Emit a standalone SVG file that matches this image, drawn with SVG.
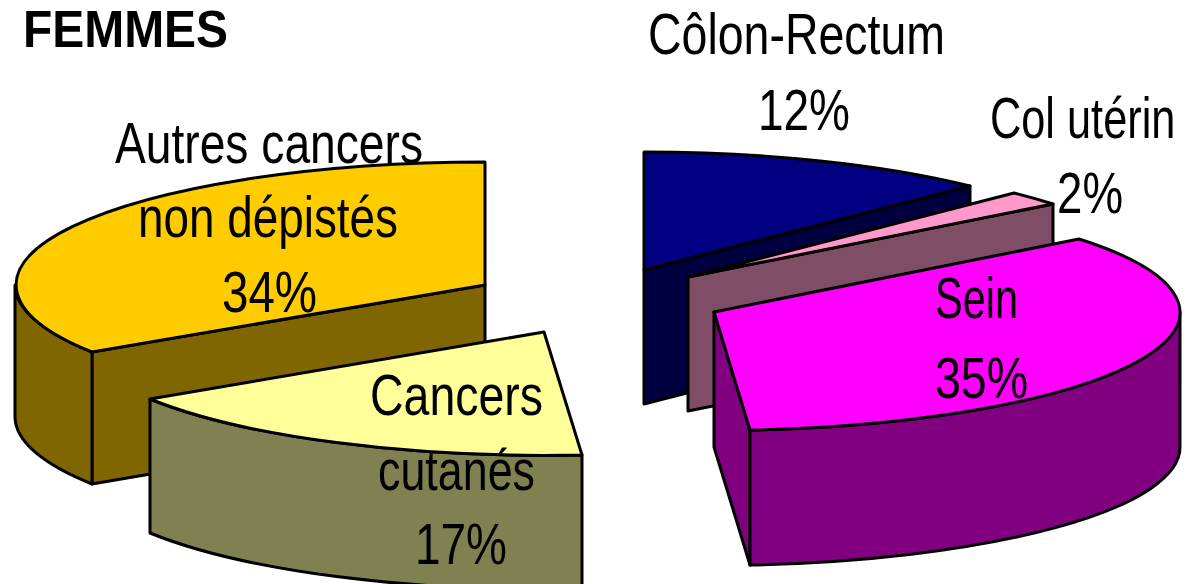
<svg xmlns="http://www.w3.org/2000/svg" width="1188" height="584" viewBox="0 0 1188 584">
<style>
  .t { font-family: "Liberation Sans", Arial, sans-serif; font-size: 57px; fill: #000; }
  .b { font-weight: bold; font-size: 52px; }
  .e { stroke: #000; stroke-width: 3; stroke-linejoin: round; }
</style>
<rect width="1188" height="584" fill="#fff"/>
<g id="title">
  <text class="t b" x="23" y="47" textLength="205" lengthAdjust="spacingAndGlyphs">FEMMES</text>
</g>
<g id="autres-cancers">
  <path class="e" fill="#806600" d="M485,285 L92,352 L92,484 L485,417 Z"/>
  <path class="e" fill="#806600" d="M15,285 A470,123 0 0 0 92,352 L92,484 A470,123 0 0 1 15,417 Z"/>
  <path class="e" fill="#FFCC00" d="M485,285 L485,162 A470,123 0 0 0 92,352 Z"/>
  <text class="t" x="115" y="163" textLength="308" lengthAdjust="spacingAndGlyphs">Autres cancers</text>
  <text class="t" x="138" y="237" textLength="260" lengthAdjust="spacingAndGlyphs">non dépistés</text>
  <text class="t" x="222" y="312" textLength="95" lengthAdjust="spacingAndGlyphs">34%</text>
</g>
<g id="cancers-cutanes">
  <path class="e" fill="#808050" d="M150,399 A470,123 0 0 0 582,455 L582,589 A470,123 0 0 1 150,533 Z"/>
  <path class="e" fill="#FFFF99" d="M544,332 L150,399 A470,123 0 0 0 582,455 Z"/>
  <text class="t" x="370" y="415" textLength="173" lengthAdjust="spacingAndGlyphs">Cancers</text>
  <text class="t" x="378" y="490" textLength="157" lengthAdjust="spacingAndGlyphs">cutanés</text>
  <text class="t" x="415" y="564" textLength="92" lengthAdjust="spacingAndGlyphs">17%</text>
</g>
<g id="colon-rectum">
  <path class="e" fill="#000040" d="M644,270 L970,186 L970,320 L644,404 Z"/>
  <path class="e" fill="#000080" d="M644,270 L644,152 A466,118 0 0 1 970,186 Z"/>
  <text class="t" x="648" y="54" textLength="297" lengthAdjust="spacingAndGlyphs">Côlon-Rectum</text>
  <text class="t" x="758" y="130" textLength="92" lengthAdjust="spacingAndGlyphs">12%</text>
</g>
<g id="col-uterin">
  <path class="e" fill="#804D66" d="M688,277 L1053,204 L1053,338 L688,411 Z"/>
  <path class="e" fill="#FF99CC" d="M688,277 L1014,193 A466,118 0 0 1 1053,204 Z"/>
  <text class="t" transform="translate(990,138) scale(0.76,1)" x="0" y="0">Col utérin</text>
  <text class="t" x="1057" y="213" textLength="66" lengthAdjust="spacingAndGlyphs">2%</text>
</g>
<g id="sein">
  <path class="e" fill="#800080" d="M714,312 L750,430 L750,565 L714,447 Z"/>
  <path class="e" fill="#800080" d="M1180,312 A466,118 0 0 1 750,430 L750,565 A466,118 0 0 0 1180,447 Z"/>
  <path class="e" fill="#FF00FF" d="M714,312 L1079,239 A466,118 0 0 1 750,430 Z"/>
  <text class="t" x="935" y="318" textLength="83" lengthAdjust="spacingAndGlyphs">Sein</text>
  <text class="t" x="935" y="398" textLength="93" lengthAdjust="spacingAndGlyphs">35%</text>
</g>
</svg>
